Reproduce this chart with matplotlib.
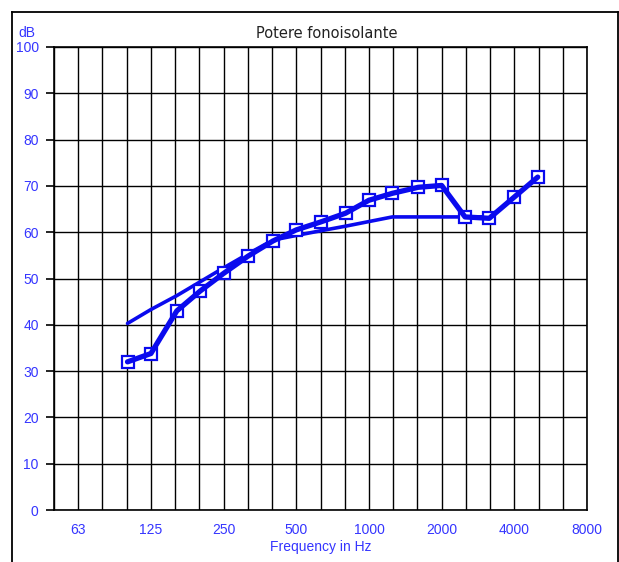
import matplotlib
matplotlib.use("Agg")
import matplotlib.pyplot as plt
from matplotlib.lines import Line2D

# Data
freqs = [100, 125, 160, 200, 250, 315, 400, 500, 630, 800, 1000, 1250,
         1600, 2000, 2500, 3150, 4000, 5000]
measured = [32.0, 33.8, 43.0, 47.3, 51.1, 54.8, 58.1, 60.5, 62.2, 64.1,
            66.9, 68.4, 69.7, 70.1, 63.3, 63.0, 67.6, 71.9]
ref_freqs = [100, 125, 160, 200, 250, 315, 400, 500, 630, 800, 1000, 1250,
             1600, 2000, 2500, 3150]
reference = [40.3, 43.3, 46.3, 49.3, 52.3, 55.3, 58.3, 59.3, 60.3, 61.3,
             62.3, 63.3, 63.3, 63.3, 63.3, 63.3]
grid_freqs = [49.6, 62.5, 78.7, 99.2, 125, 157.5, 198.4, 250, 315, 396.9,
              500, 630, 793.7, 1000, 1260, 1587, 2000, 2520, 3175, 4000,
              5040, 6350, 8000]
xtick_pos = [62.5, 125, 250, 500, 1000, 2000, 4000, 8000]
xtick_labels = ["63", "125", "250", "500", "1000", "2000", "4000", "8000"]
yticks = [0, 10, 20, 30, 40, 50, 60, 70, 80, 90, 100]

BLUE_TXT = "#3535ff"
BLUE = "#0a0aee"

fig = plt.figure(figsize=(6.19, 5.62), dpi=100)
ax = fig.add_axes([54/619, 52/562, 533/619, 463/562])
ax.set_xscale("log")
ax.set_xlim(grid_freqs[0], grid_freqs[-1])
ax.set_ylim(0, 100)

for g in grid_freqs:
    ax.axvline(g, color="black", lw=1.0, zorder=1)
for y in yticks:
    ax.axhline(y, color="black", lw=1.0, zorder=1)

ax.plot(ref_freqs, reference, color=BLUE, lw=2.6, solid_capstyle="round", zorder=3)
ax.plot(freqs, measured, linestyle="none", marker="s", ms=8.5, mfc="white",
        mec=BLUE, mew=1.6, zorder=4)
ax.plot(freqs, measured, color=BLUE, lw=3.8, solid_capstyle="round",
        solid_joinstyle="round", zorder=5)

ax.xaxis.set_minor_locator(matplotlib.ticker.NullLocator())
ax.set_xticks(xtick_pos)
ax.set_xticklabels(xtick_labels)
ax.set_yticks(yticks)
ax.tick_params(axis="x", length=0, pad=9, labelsize=10, labelcolor=BLUE_TXT)
ax.tick_params(axis="y", length=6, width=1.2, pad=5, labelsize=10, labelcolor=BLUE_TXT)
for lab in ax.get_xticklabels() + ax.get_yticklabels():
    lab.set_fontfamily("Liberation Sans")
for s in ax.spines.values():
    s.set_linewidth(1.2)

fig.text(327/619, 1 - 33/562, "Potere fonoisolante", ha="center", va="center",
         fontsize=10.5, color="#222222", family="DejaVu Sans")
fig.text(27/619, 1 - 33/562, "dB", ha="center", va="center",
         fontsize=10, color=BLUE_TXT, family="Liberation Sans")
fig.text(321/619, 1 - 547/562, "Frequency in Hz", ha="center", va="center",
         fontsize=10, color=BLUE_TXT, family="Liberation Sans")

# outer frame
fx0, fy1, fx1 = 12/619, 1 - 12/562, 617.5/619
fig.add_artist(Line2D([fx0, fx0], [0, fy1], transform=fig.transFigure, color="black", lw=1.3))
fig.add_artist(Line2D([fx0, fx1], [fy1, fy1], transform=fig.transFigure, color="black", lw=1.3))
fig.add_artist(Line2D([fx1, fx1], [0, fy1], transform=fig.transFigure, color="black", lw=1.3))

fig.savefig("out.png", dpi=100)
